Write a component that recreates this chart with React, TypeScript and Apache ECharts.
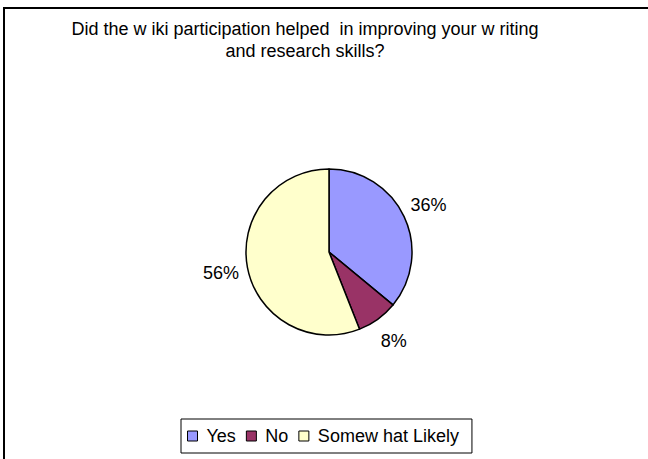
import React, { useEffect, useRef } from "react";
import * as echarts from "echarts";

const titleLines = [
  "Did the w iki participation helped  in improving your w riting",
  "and research skills?",
];
const categories = ["Yes", "No", "Somew hat Likely"];
const values = [36, 8, 56];
const colors = ["#9999FF", "#993366", "#FFFFCC"];

const FONT = "'Liberation Sans', Arial, sans-serif";

export default function App() {
  const ref = useRef<HTMLDivElement>(null);
  useEffect(() => {
    if (!ref.current) return;
    const chart = echarts.init(ref.current, null, { renderer: "svg" });
    const total = values.reduce((a, b) => a + b, 0);
    const radius = 83;
    const labelDist = 110;
    const baseDist = radius / 2 + 3;
    let cum = 0;
    const data = values.map((v, i) => {
      const mid = ((90 - ((cum + v / 2) / total) * 360) * Math.PI) / 180;
      cum += v;
      const d = labelDist - baseDist;
      return {
        name: categories[i],
        value: v,
        itemStyle: { color: colors[i] },
        label: { offset: [d * Math.cos(mid), -d * Math.sin(mid)] },
      };
    });
    chart.setOption({
      animation: false,
      backgroundColor: "#ffffff",
      title: {
        text: titleLines.join("\n"),
        left: 305,
        top: 18,
        padding: 0,
        textAlign: "center",
        textStyle: {
          fontFamily: FONT,
          fontSize: 18,
          fontWeight: "normal",
          color: "#000",
          lineHeight: 22,
        },
      },
      graphic: [
        {
          type: "rect",
          shape: { x: 4, y: 8, width: 700, height: 500 },
          style: { fill: "none", stroke: "#000", lineWidth: 2 },
          silent: true,
        },
      ],
      legend: {
        left: 181,
        top: 419,
        orient: "horizontal",
        padding: [8, 13, 8, 6],
        itemGap: 10,
        itemWidth: 10,
        itemHeight: 10,
        icon: "rect",
        borderColor: "#000",
        borderWidth: 1,
        backgroundColor: "#fff",
        data: categories,
        itemStyle: { borderColor: "#000", borderWidth: 1 },
        textStyle: {
          fontFamily: FONT,
          fontSize: 18,
          color: "#000",
          padding: [0, 0, 0, 4],
        },
      },
      series: [
        {
          type: "pie",
          center: [329, 252],
          radius: [0, radius],
          startAngle: 90,
          clockwise: true,
          avoidLabelOverlap: false,
          itemStyle: { borderColor: "#000", borderWidth: 1.5 },
          label: {
            show: true,
            position: "inside",
            formatter: "{c}%",
            color: "#000",
            fontFamily: FONT,
            fontSize: 18,
          },
          labelLine: { show: false },
          emphasis: { disabled: true },
          data,
        },
      ],
    });
    return () => chart.dispose();
  }, []);
  return (
    <div
      ref={ref}
      style={{ position: "fixed", left: 0, top: 0, width: 648, height: 459 }}
    />
  );
}
